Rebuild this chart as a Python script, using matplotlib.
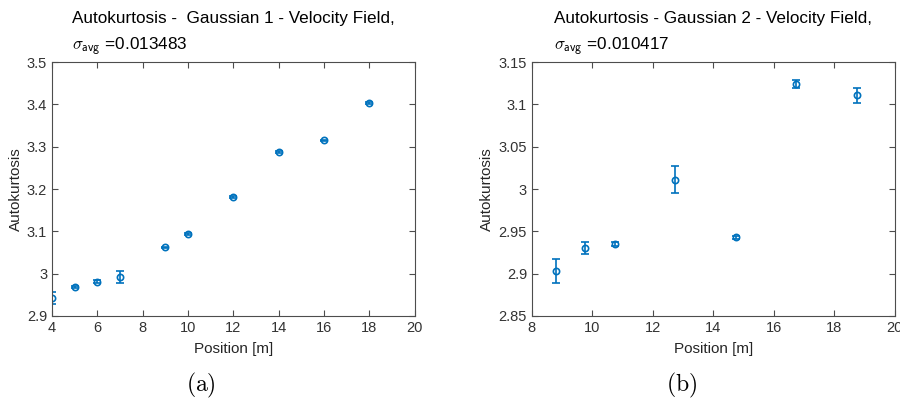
import numpy as np
import matplotlib.pyplot as plt

plt.rcParams['font.family'] = ['Liberation Sans', 'DejaVu Sans']
plt.rcParams['mathtext.fontset'] = 'cm'

# panel (a)
pos_a = [4, 5, 6, 7, 9, 10, 12, 14, 16, 18]
kurt_a = [2.943, 2.969, 2.981, 2.992, 3.062, 3.094, 3.182, 3.287, 3.315, 3.404]
err_a = [0.014, 0.003, 0.003, 0.014, 0.002, 0.002, 0.002, 0.002, 0.002, 0.002]
xticks_a = [4, 6, 8, 10, 12, 14, 16, 18, 20]
yticks_a = [2.9, 3.0, 3.1, 3.2, 3.3, 3.4, 3.5]
ylabels_a = ['2.9', '3', '3.1', '3.2', '3.3', '3.4', '3.5']

# panel (b)
pos_b = [8.8, 9.75, 10.75, 12.75, 14.75, 16.75, 18.75]
kurt_b = [2.903, 2.930, 2.935, 3.011, 2.943, 3.124, 3.111]
err_b = [0.014, 0.007, 0.002, 0.016, 0.002, 0.005, 0.009]
xticks_b = [8, 10, 12, 14, 16, 18, 20]
yticks_b = [2.85, 2.9, 2.95, 3.0, 3.05, 3.1, 3.15]
ylabels_b = ['2.85', '2.9', '2.95', '3', '3.05', '3.1', '3.15']

blue = '#0072BD'
grey = '#4d4d4d'

fig = plt.figure(figsize=(9, 4.01), dpi=100)
ax1 = fig.add_axes([0.0578, 0.212, 0.403, 0.633])
ax2 = fig.add_axes([0.591, 0.212, 0.403, 0.633])

panels = [
    (ax1, pos_a, kurt_a, err_a, (4, 20), (2.9, 3.5), xticks_a, yticks_a, ylabels_a,
     'Autokurtosis -  Gaussian 1 - Velocity Field,\n$\\sigma_{\\mathsf{avg}}$ =0.013483', '(a)', 201),
    (ax2, pos_b, kurt_b, err_b, (8, 20), (2.85, 3.15), xticks_b, yticks_b, ylabels_b,
     'Autokurtosis - Gaussian 2 - Velocity Field,\n$\\sigma_{\\mathsf{avg}}$ =0.010417', '(b)', 682),
]

for ax, x, y, e, xl, yl, xt, yt, ytl, title, cap, capx in panels:
    ax.errorbar(x, y, yerr=e, fmt='o', color=blue, mfc='none', ms=4.5,
                mew=1.2, elinewidth=1.2, capsize=3, capthick=1.2)
    ax.set_xlim(*xl)
    ax.set_ylim(*yl)
    ax.set_xticks(xt)
    ax.set_yticks(yt)
    ax.set_yticklabels(ytl)
    ax.tick_params(direction='in', top=True, right=True, labelsize=10.5,
                   colors=grey, labelcolor='#333333', length=4, width=0.8)
    for s in ax.spines.values():
        s.set_color(grey)
        s.set_linewidth(0.8)
    ax.set_xlabel('Position [m]', fontsize=11, color='#262626', labelpad=5)
    ax.set_ylabel('Autokurtosis', fontsize=11, color='#262626', labelpad=3)
    ax.set_title(title, fontsize=12.3, multialignment='left', pad=9,
                 linespacing=1.6)
    # caption under each panel
    fig.text(capx / 900, 1 - 385 / 401, '$\\mathrm{' + cap + '}$',
             ha='center', va='center', fontsize=17)

fig.savefig('out.png', dpi=100)
